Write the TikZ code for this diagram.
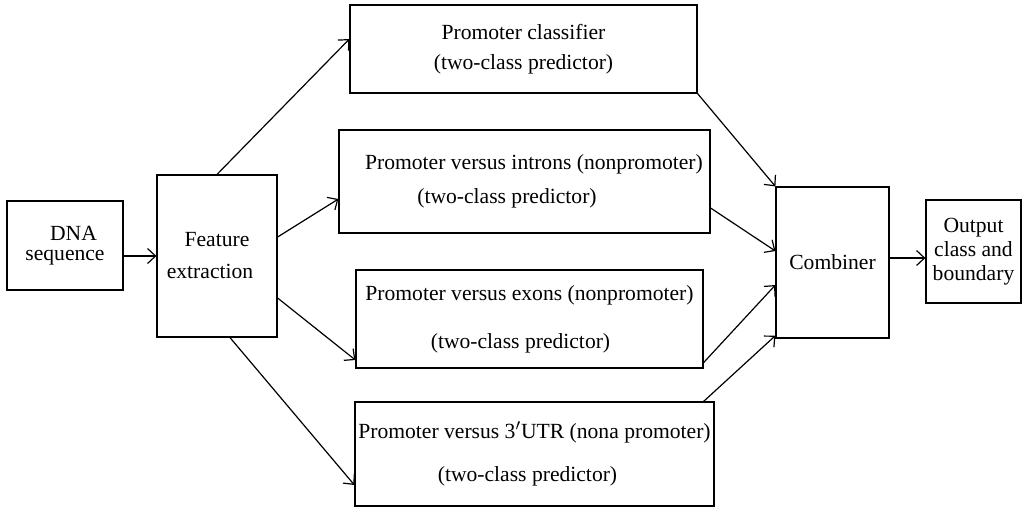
\documentclass[tikz,border=0pt]{standalone}
\usepackage{fontspec}
\setmainfont{Liberation Serif}
\usetikzlibrary{shapes,arrows.meta}
\tikzstyle{block} = [rectangle, draw, line width=0.6pt, align=center,
    inner sep=0pt, font=\fontsize{10.8}{13}\selectfont]
\tikzstyle{line} = [draw, line width=0.6pt, -{Straight Barb[length=4pt, width=7.5pt]}]

\begin{document}
\begin{tikzpicture}[x=0.5pt, y=-0.5pt]
    \useasboundingbox (0,0) rectangle (1022,511);
    % Place nodes
    \node [block, minimum width=58pt, minimum height=44.5pt] (dna) at (65,245.5) {\hspace*{8.5pt}DNA\\[-3pt]sequence};
    \node [block, minimum width=60pt, minimum height=81pt] (feat) at (217,256) {Feature\\[3pt]extraction\hspace*{7pt}};
    \node [block, minimum width=173.5pt, minimum height=44pt] (cls) at (523.5,49) {Promoter classifier\\[2pt](two-class predictor)};
    \node [block, minimum width=185.5pt, minimum height=51.5pt] (intr) at (524.5,181.5) {\hspace*{9.5pt}Promoter versus introns (nonpromoter)\\[4pt](two-class predictor)\hspace*{17.5pt}};
    \node [block, minimum width=173.5pt, minimum height=49pt] (exo) at (529.5,319) {Promoter versus exons (nonpromoter)\\[11pt](two-class predictor)\hspace*{9pt}};
    \node [block, minimum width=179.5pt, minimum height=52pt] (utr) at (534.5,454) {Promoter versus 3$'$UTR (nona promoter)\\[8.5pt](two-class predictor)\hspace*{7pt}};
    \node [block, minimum width=56.5pt, minimum height=75.5pt] (comb) at (832.5,262.5) {Combiner};
    \node [block, minimum width=47.5pt, minimum height=51.5pt] (outp) at (973.5,251.5) {Output\\[-1pt]class and\\[-1pt]boundary};
    \coordinate (combout) at ([yshift=2.25pt]comb.east);
    % Draw edges
    \path [line] (dna.east |- feat.west) -- (feat.west);
    \path [line] (feat.north) -- ([yshift=5pt]cls.west);
    \path [line] ([yshift=9.5pt]feat.east) -- ([yshift=-8.75pt]intr.west);
    \path [line] ([yshift=-21pt]feat.east) -- ([yshift=-20.5pt]exo.west);
    \path [line] ([xshift=6.5pt]feat.south) -- ([yshift=-15.5pt]utr.west);
    \path [line] (cls.south east) -- (comb.north west);
    \path [line] ([yshift=-13.25pt]intr.east) -- ([yshift=5.75pt]comb.west);
    \path [line] ([yshift=3pt]exo.south east) -- ([yshift=-11.25pt]comb.west);
    \path [line] ([xshift=-5.5pt]utr.north east) -- ([yshift=1.5pt]comb.south west);
    \path [line] (combout) -- (combout -| outp.west);
\end{tikzpicture}
\end{document}
